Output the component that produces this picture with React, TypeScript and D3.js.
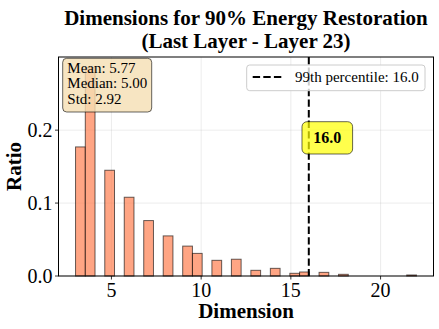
import { useRef, useEffect } from 'react';
import * as d3 from 'd3';

// observed dimensions and their share of samples
const dimensions = [3, 4, 5, 6, 7, 8, 9, 10, 11, 12, 13, 14, 15, 16, 17, 18, 22];
const ratios = [0.177, 0.286, 0.145, 0.108, 0.076, 0.055, 0.041, 0.031, 0.0215, 0.023, 0.0078, 0.0105, 0.0037, 0.0055, 0.005, 0.0023, 0.0014];
const statLines = ['Mean: 5.77', 'Median: 5.00', 'Std: 2.92'];
const p99 = 16.0;
const xTicks = [5, 10, 15, 20];
const yTicks = [0, 0.1, 0.2];
const nBins = 35;

const FONT = '"Liberation Serif", "Times New Roman", serif';

function App() {
    const ref = useRef(null);

    useEffect(() => {
        d3.select(ref.current).selectAll('*').remove();
        const svg = d3.select(ref.current);

        const margin = { top: 57, right: 5.5, bottom: 53, left: 58.5 };
        const W = 439, H = 329;
        const width = W - margin.left - margin.right;
        const height = H - margin.top - margin.bottom;

        // histogram bins like plt.hist(bins=35)
        const lo = d3.min(dimensions), hi = d3.max(dimensions);
        const bw = (hi - lo) / nBins;
        const bins = d3.range(nBins).map(i => ({ x0: lo + i * bw, x1: lo + (i + 1) * bw, v: 0 }));
        dimensions.forEach((d, i) => {
            const k = Math.min(nBins - 1, Math.floor((d - lo) / bw));
            bins[k].v += ratios[i];
        });

        const pad = (hi - lo) * 0.05;
        const x = d3.scaleLinear().domain([lo - pad, hi + pad]).range([0, width]);
        const y = d3.scaleLinear().domain([0, d3.max(bins, b => b.v) * 1.05]).range([height, 0]);

        const g = svg.append('g').attr('transform', `translate(${margin.left},${margin.top})`);

        // grid
        g.append('g').selectAll('line').data(xTicks).enter().append('line')
            .attr('x1', d => x(d)).attr('x2', d => x(d)).attr('y1', 0).attr('y2', height)
            .attr('stroke', '#b0b0b0').attr('stroke-opacity', 0.3).attr('stroke-width', 0.8);
        g.append('g').selectAll('line').data(yTicks).enter().append('line')
            .attr('x1', 0).attr('x2', width).attr('y1', d => y(d)).attr('y2', d => y(d))
            .attr('stroke', '#b0b0b0').attr('stroke-opacity', 0.3).attr('stroke-width', 0.8);

        // bars
        g.selectAll('.bar')
            .data(bins.filter(b => b.v > 0))
            .enter().append('rect')
            .attr('class', 'bar')
            .attr('x', d => x(d.x0))
            .attr('y', d => y(d.v))
            .attr('width', d => x(d.x1) - x(d.x0))
            .attr('height', d => height - y(d.v))
            .attr('fill', '#ff7f50').attr('fill-opacity', 0.7)
            .attr('stroke', '#000').attr('stroke-opacity', 0.6).attr('stroke-width', 1);

        // percentile line
        g.append('line')
            .attr('x1', x(p99)).attr('x2', x(p99)).attr('y1', 0).attr('y2', height)
            .attr('stroke', '#000').attr('stroke-width', 2).attr('stroke-dasharray', '7.4,3.2');

        // frame
        g.append('rect').attr('width', width).attr('height', height)
            .attr('fill', 'none').attr('stroke', '#000').attr('stroke-width', 1);

        // x axis
        const xa = g.append('g').attr('transform', `translate(0,${height})`);
        xa.selectAll('line').data(xTicks).enter().append('line')
            .attr('x1', d => x(d)).attr('x2', d => x(d)).attr('y1', 0).attr('y2', 3.5)
            .attr('stroke', '#000').attr('stroke-width', 0.8);
        xa.selectAll('text').data(xTicks).enter().append('text')
            .attr('x', d => x(d)).attr('y', 21).attr('text-anchor', 'middle')
            .style('font-family', FONT).style('font-size', '20px').text(d => d);

        // y axis
        const ya = g.append('g');
        ya.selectAll('line').data(yTicks).enter().append('line')
            .attr('x1', -3.5).attr('x2', 0).attr('y1', d => y(d)).attr('y2', d => y(d))
            .attr('stroke', '#000').attr('stroke-width', 0.8);
        ya.selectAll('text').data(yTicks).enter().append('text')
            .attr('x', -6).attr('y', d => y(d) + 7).attr('text-anchor', 'end')
            .style('font-family', FONT).style('font-size', '20px').text(d => d3.format('.1f')(d));

        // labels
        svg.append('text')
            .attr('x', margin.left + width / 2).attr('y', 318).attr('text-anchor', 'middle')
            .style('font-family', FONT).style('font-size', '21px').style('font-weight', 'bold')
            .text('Dimension');
        svg.append('text')
            .attr('transform', `translate(21,${margin.top + height / 2}) rotate(-90)`)
            .attr('text-anchor', 'middle')
            .style('font-family', FONT).style('font-size', '21px').style('font-weight', 'bold')
            .text('Ratio');

        // title
        const title = svg.append('text').attr('text-anchor', 'middle')
            .style('font-family', FONT).style('font-size', '21px').style('font-weight', 'bold');
        title.append('tspan').attr('x', margin.left + width / 2).attr('y', 25)
            .text('Dimensions for 90% Energy Restoration');
        title.append('tspan').attr('x', margin.left + width / 2).attr('y', 48)
            .text('(Last Layer - Layer 23)');

        // stats box
        svg.append('rect')
            .attr('x', 62.7).attr('y', 58.3).attr('width', 89).attr('height', 53.7).attr('rx', 4)
            .attr('fill', '#f5deb3').attr('fill-opacity', 0.8)
            .attr('stroke', '#000').attr('stroke-opacity', 0.6).attr('stroke-width', 1);
        svg.append('g').selectAll('text').data(statLines).enter().append('text')
            .attr('x', 67.3).attr('y', (d, i) => 72.7 + i * 15.5)
            .style('font-family', FONT).style('font-size', '15px').text(d => d);

        // legend
        svg.append('rect')
            .attr('x', 246.7).attr('y', 65).attr('width', 178.3).attr('height', 25.7).attr('rx', 3)
            .attr('fill', '#fff').attr('fill-opacity', 0.8)
            .attr('stroke', '#ccc').attr('stroke-width', 1);
        svg.append('line')
            .attr('x1', 252.7).attr('x2', 282.7).attr('y1', 77).attr('y2', 77)
            .attr('stroke', '#000').attr('stroke-width', 2).attr('stroke-dasharray', '7.4,3.2');
        svg.append('text').attr('x', 295).attr('y', 82)
            .style('font-family', FONT).style('font-size', '15px')
            .text(`99th percentile: ${p99.toFixed(1)}`);

        // percentile annotation
        const ax = margin.left + x(p99) + 18.5;
        svg.append('rect')
            .attr('x', ax - 25.3).attr('y', 121.7).attr('width', 50.6).attr('height', 32.3).attr('rx', 5)
            .attr('fill', '#ffff00').attr('fill-opacity', 0.7)
            .attr('stroke', '#000').attr('stroke-opacity', 0.6).attr('stroke-width', 1);
        svg.append('text').attr('x', ax).attr('y', 143.3).attr('text-anchor', 'middle')
            .style('font-family', FONT).style('font-size', '16px').style('font-weight', 'bold')
            .text(p99.toFixed(1));
    }, []);

    return <svg ref={ref} width={439} height={329} style={{ position: 'fixed', left: 0, top: 0, background: '#fff' }} />;
}

export default App;
